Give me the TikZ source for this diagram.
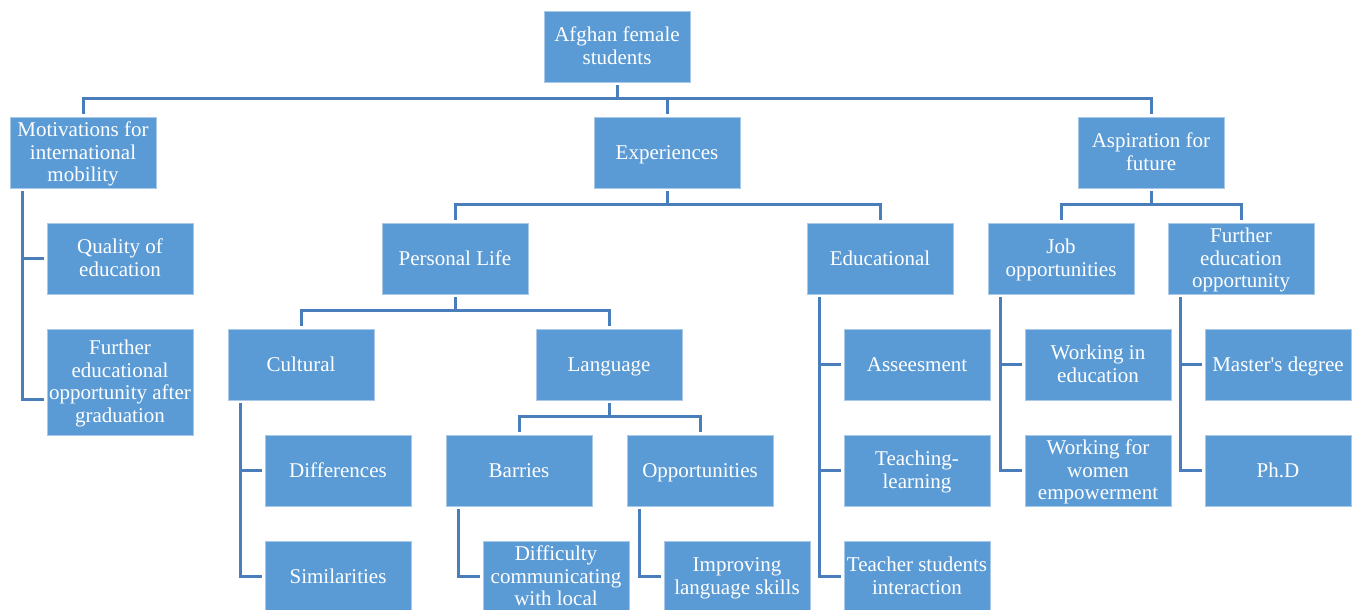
\documentclass[tikz,border=0pt]{standalone}
\usepackage{fontspec}
\setmainfont{Liberation Serif}
\definecolor{boxblue}{RGB}{91,155,213}
\definecolor{boxedge}{RGB}{170,200,232}
\definecolor{linkblue}{RGB}{74,126,187}
\tikzset{
  box/.style={rectangle, fill=boxblue, draw=boxedge, line width=0.8pt,
    minimum width=146pt, minimum height=71pt, text width=146pt, inner sep=0pt,
    align=flush center, text=white, font=\fontsize{21}{22.5}\selectfont,
    execute at begin node={\noindent\rule{0pt}{18pt}},
    execute at end node={\rule[-5pt]{0pt}{5pt}}},
  link/.style={draw=linkblue, line width=3pt, line join=miter}
}
\begin{document}
\begin{tikzpicture}[x=1pt,y=-1pt]
\useasboundingbox (0,0) rectangle (1360,610);
\clip (0,0) rectangle (1360,610);
% nodes
\node[box] (root) at (617,46.5) {Afghan female\\students};
\node[box] (mot) at (83,152.5) {Motivations for\\international\\mobility};
\node[box] (exp) at (667,152.5) {Experiences};
\node[box] (asp) at (1151,152.5) {Aspiration for\\future};
\node[box] (qual) at (120,258.5) {Quality of\\education};
\node[box, minimum height=106pt] (furth) at (120,382) {Further\\educational\\opportunity after\\graduation};
\node[box] (pers) at (455,258.5) {Personal Life};
\node[box] (edu) at (880,258.5) {Educational};
\node[box] (job) at (1061,258.5) {Job\\opportunities};
\node[box] (fed) at (1241,258.5) {Further\\education\\opportunity};
\node[box] (cult) at (301,364.5) {Cultural};
\node[box] (lang) at (609,364.5) {Language};
\node[box] (diff) at (338,470.5) {Differences};
\node[box] (sim) at (338,576.5) {Similarities};
\node[box] (barr) at (519,470.5) {Barries};
\node[box] (opp) at (700,470.5) {Opportunities};
\node[box] (difc) at (556,576.5) {Difficulty\\communicating\\with local};
\node[box] (impr) at (737,576.5) {Improving\\language skills};
\node[box] (ases) at (917,364.5) {Asseesment};
\node[box] (teach) at (917,470.5) {Teaching-\\learning};
\node[box] (tsi) at (917,576.5) {Teacher students\\interaction};
\node[box] (wie) at (1098,364.5) {Working in\\education};
\node[box] (wwe) at (1098,470.5) {Working for\\women\\empowerment};
\node[box] (mast) at (1278,364.5) {Master\textquotesingle s degree};
\node[box] (phd) at (1278,470.5) {Ph.D};
% connectors: top level
\draw[link] ([yshift=3pt]mot.north) -- ++(0,-15) -| ([yshift=3pt]asp.north);
\draw[link] ([yshift=-3pt]root.south) -- ++(0,14);
\draw[link] ([yshift=3pt]exp.north) -- ++(0,-15);
% experiences
\draw[link] ([yshift=3pt]pers.north) -- ++(0,-15) -| ([yshift=3pt]edu.north);
\draw[link] ([yshift=-3pt]exp.south) -- ++(0,14);
% aspiration
\draw[link] ([yshift=3pt]job.north) -- ++(0,-15) -| ([yshift=3pt]fed.north);
\draw[link] ([yshift=-3pt]asp.south) -- ++(0,14);
% personal life
\draw[link] ([yshift=3pt]cult.north) -- ++(0,-15) -| ([yshift=3pt]lang.north);
\draw[link] ([yshift=-3pt]pers.south) -- ++(0,14);
% language
\draw[link] ([yshift=3pt]barr.north) -- ++(0,-15) -| ([yshift=3pt]opp.north);
\draw[link] ([yshift=-3pt]lang.south) -- ++(0,14);
% side trees
\draw[link] ([xshift=13pt,yshift=-3pt]mot.south west) |- ([xshift=-3pt]qual.west);
\draw[link] ([xshift=13pt,yshift=-3pt]mot.south west) |- ([xshift=-3pt,yshift=-17.5pt]furth.west);
\draw[link] ([xshift=13pt,yshift=-3pt]cult.south west) |- ([xshift=-3pt]diff.west);
\draw[link] ([xshift=13pt,yshift=-3pt]cult.south west) |- ([xshift=-3pt]sim.west);
\draw[link] ([xshift=13pt,yshift=-3pt]barr.south west) |- ([xshift=-3pt]difc.west);
\draw[link] ([xshift=13pt,yshift=-3pt]opp.south west) |- ([xshift=-3pt]impr.west);
\draw[link] ([xshift=13pt,yshift=-3pt]edu.south west) |- ([xshift=-3pt]ases.west);
\draw[link] ([xshift=13pt,yshift=-3pt]edu.south west) |- ([xshift=-3pt]teach.west);
\draw[link] ([xshift=13pt,yshift=-3pt]edu.south west) |- ([xshift=-3pt]tsi.west);
\draw[link] ([xshift=13pt,yshift=-3pt]job.south west) |- ([xshift=-3pt]wie.west);
\draw[link] ([xshift=13pt,yshift=-3pt]job.south west) |- ([xshift=-3pt]wwe.west);
\draw[link] ([xshift=13pt,yshift=-3pt]fed.south west) |- ([xshift=-3pt]mast.west);
\draw[link] ([xshift=13pt,yshift=-3pt]fed.south west) |- ([xshift=-3pt]phd.west);
\end{tikzpicture}
\end{document}
